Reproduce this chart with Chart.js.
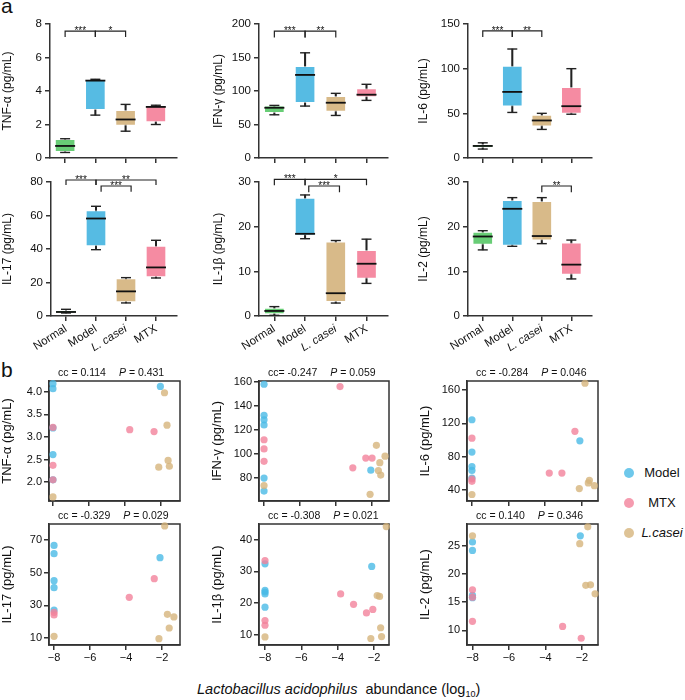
<!DOCTYPE html>
<html><head><meta charset="utf-8">
<script src="https://cdn.jsdelivr.net/npm/chart.js@4.4.0/dist/chart.umd.min.js"></script>
<style>
body{margin:0;background:#fff;}
#wrap{position:relative;width:685px;height:700px;overflow:hidden;font-family:'Liberation Sans',Arial,sans-serif;color:#111;}
canvas{position:absolute;}
.pl{position:absolute;font-size:21px;line-height:21px;}
.dot{position:absolute;width:10px;height:10px;border-radius:50%;}
.lt{position:absolute;left:640px;width:44px;text-align:center;font-size:13px;line-height:16px;}
#xt{position:absolute;left:197px;top:681px;font-size:14.5px;line-height:17px;white-space:nowrap;}
#xt sub{font-size:9px;vertical-align:-3px;line-height:0;}
</style></head><body><div id="wrap">
<div class="pl" style="left:1px;top:-5px">a</div>
<div class="pl" style="left:1px;top:359px">b</div>
<div class="dot" style="left:624px;top:468px;background:rgba(74,186,230,0.8)"></div><div class="lt" style="top:465px">Model</div>
<div class="dot" style="left:624px;top:498px;background:rgba(243,130,155,0.8)"></div><div class="lt" style="top:495px">MTX</div>
<div class="dot" style="left:624px;top:528px;background:rgba(214,180,124,0.8)"></div><div class="lt" style="top:525px;font-style:italic">L.casei</div>
<div id="xt"><i>Lactobacillus acidophilus</i>&nbsp; abundance (log<sub>10</sub>)</div>
</div>
<script>
// ---------- Panel a: box plot data [min, q1, median, q3, max] ----------
const groups = ['Normal', 'Model', 'L. casei', 'MTX'];
const tnfBox  = [[0.33,0.38,0.72,1.12,1.15],[2.56,2.88,4.62,4.66,4.7],[1.6,1.95,2.3,2.85,3.2],[2.0,2.15,3.05,3.1,3.15]];
const ifnBox  = [[64.5,67.5,75,78,78.5],[77.5,82.5,124,137,157],[63.5,69.5,82.5,92,96.5],[86,91,94.5,103.5,110]];
const il6Box  = [[10,11.6,13.5,15.4,17],[51,58,74,103,122],[32,35.6,42,48,50],[49,50,58,79,100]];
const il17Box = [[1.8,1.8,2.4,3.4,4],[39.6,41.8,58.2,62.9,65.5],[7.8,8.4,14.7,22.3,22.9],[22.7,23.3,29,41.8,45.2]];
const il1bBox = [[0.15,0.45,1.13,1.8,2.1],[17.3,18.1,18.4,26.4,27.1],[2.9,3.2,5.1,16.6,16.9],[7.3,8.4,11.7,14.7,17.2]];
const il2Box  = [[14.8,16,17.8,18.8,19.1],[15.6,15.8,24,25.9,26.5],[16.2,17,17.9,25.7,26.5],[8.3,9.3,11.5,16.4,17]];
// significance brackets: [from group, to group, bar value, leg-end value, label]
const tnfSig  = [[0,1,7.58,7.22,'***'],[1,2,7.58,7.22,'*']];
const ifnSig  = [[0,1,189.5,180,'***'],[1,2,189.5,180,'**']];
const il6Sig  = [[0,1,142.2,135.5,'***'],[1,2,142.2,135.5,'**']];
const il17Sig = [[0,1,81.2,78.2,'***'],[1,3,81.2,78.2,'**'],[1.17,2.17,77.6,74.2,'***']];
const il1bSig = [[0,1,30.6,29.3,'***'],[1,3,30.6,29.3,'*'],[1.12,2.12,29.1,27.7,'***']];
const il2Sig  = [[2,3,29.1,27.7,'**']];

// ---------- Panel b: scatter data [log10 abundance, value] ----------
const tnfModel = [[-8,4.18],[-8,4.07],[-8,3.2],[-8,2.61],[-8,2.05],[-2.04,4.12]];
const tnfMTX   = [[-8,3.21],[-8,2.37],[-8,2.05],[-3.74,3.16],[-2.39,3.12]];
const tnfLC    = [[-8,1.67],[-1.81,3.98],[-1.67,3.26],[-1.61,2.48],[-2.13,2.33],[-1.54,2.35]];
const ifnModel = [[-8,157.8],[-8,132],[-8,128.3],[-8,124],[-8,80],[-8,69.2],[-2.07,86.6]];
const ifnMTX   = [[-8,111.8],[-8,104.2],[-8,93.9],[-3.78,155.9],[-3.07,88.5],[-2.35,96.6],[-2.0,96.6]];
const ifnLC    = [[-8,73.8],[-1.76,107.2],[-1.28,98.2],[-1.57,92.8],[-1.65,86.3],[-1.52,82.5],[-2.11,66.5]];
const il6Model = [[-8,124.4],[-8,85.5],[-8,68.1],[-8,63.4],[-8,54.3],[-2.11,99]];
const il6MTX   = [[-8,102.2],[-8,53.1],[-8,50.3],[-3.78,60.2],[-3.09,60.2],[-2.38,110.5]];
const il6LC    = [[-8,34.4],[-1.83,168.3],[-2.14,41.6],[-1.65,48.3],[-1.59,51.5],[-1.32,45]];
const il17Model= [[-8,66.7],[-8,61.6],[-8,45.1],[-8,40.8],[-8,27.1],[-2.11,59.2]];
const il17MTX  = [[-8,25.7],[-8,24.1],[-3.82,34.9],[-2.43,46.3]];
const il17LC   = [[-8,11.0],[-1.85,78.6],[-1.7,24.5],[-1.34,22.9],[-1.6,16.1],[-2.17,9.6]];
const il1bModel= [[-8,32.4],[-8,24.0],[-8,23.5],[-8,22.9],[-8,18.7],[-2.13,31.6]];
const il1bMTX  = [[-8,33.4],[-8,14.5],[-8,13.0],[-3.84,22.9],[-3.13,19.6],[-2.42,16.9],[-2.07,18.0]];
const il1bLC   = [[-8,9.3],[-1.33,44.2],[-1.83,22.4],[-1.70,22.1],[-1.64,12.2],[-1.59,9.4],[-2.18,8.8]];
const il2Model = [[-8,25.7],[-8,24.2],[-8,16.2],[-8,15.8],[-2.09,26.8]];
const il2MTX   = [[-8,17.2],[-8,15.9],[-8,11.6],[-3.06,10.7],[-2.04,8.6]];
const il2LC    = [[-8,26.8],[-1.68,28.4],[-2.12,25.4],[-1.79,18.0],[-1.53,18.1],[-1.28,16.5]];
const ccLabels = ['cc = 0.114','cc= -0.247','cc = -0.284','cc = -0.329','cc = -0.308','cc = 0.140'];
const pLabels  = ['0.431','0.059','0.046','0.029','0.021','0.346'];
const xTickVals = [-8,-6,-4,-2];

// ---------- styles ----------
const FONT = "'Liberation Sans', Arial, sans-serif";
const boxColors = ['#68CD76','#56BBE3','#D8BA89','#F58BA2'];
const scColors = ['rgba(74,186,230,0.8)','rgba(243,130,155,0.8)','rgba(214,180,124,0.8)'];
Chart.defaults.font.family = FONT;
Chart.defaults.color = '#111';
Chart.defaults.animation = false;
Chart.defaults.events = [];
Chart.defaults.plugins.legend.display = false;
Chart.defaults.plugins.tooltip.enabled = false;

function mkCanvas(c) {
  const el = document.createElement('canvas');
  el.width = c[2]; el.height = c[3];
  el.style.left = c[0] + 'px'; el.style.top = c[1] + 'px';
  el.style.width = c[2] + 'px'; el.style.height = c[3] + 'px';
  document.getElementById('wrap').appendChild(el);
  return el;
}
function layoutFor(c, p) {
  return { padding: {top: p[1] - c[1], right: c[0] + c[2] - p[2], left: 0, bottom: 0},
           yw: p[0] - c[0], xh: c[1] + c[3] - p[3] };
}
const axisGrid = {display: true, drawOnChartArea: false, drawTicks: true, tickLength: 5, color: '#333', lineWidth: 1.5, offset: false};
const axisBorder = {display: true, color: '#333', width: 1.5};

const bracketPlugin = {
  id: 'brackets',
  afterDatasetsDraw(chart, args, opts) {
    const {ctx} = chart; const x = chart.scales.x, y = chart.scales.y;
    ctx.save();
    ctx.strokeStyle = '#222'; ctx.lineWidth = 1.2; ctx.fillStyle = '#111';
    ctx.font = '10px ' + FONT; ctx.textAlign = 'center'; ctx.textBaseline = 'alphabetic';
    for (const b of opts.items) {
      const x1 = x.getPixelForValue(b[0]), x2 = x.getPixelForValue(b[1]);
      const yl = y.getPixelForValue(b[2]), yg = y.getPixelForValue(b[3]);
      ctx.beginPath(); ctx.moveTo(x1, yg); ctx.lineTo(x1, yl); ctx.lineTo(x2, yl); ctx.lineTo(x2, yg); ctx.stroke();
      ctx.fillText(b[4], (x1 + x2) / 2, yl + 3);
    }
    ctx.restore();
  }
};

function boxChart(c, p, boxes, yMax, yStep, yTitle, sig, showLabels) {
  const L = layoutFor(c, p);
  new Chart(mkCanvas(c), {
    type: 'scatter',
    data: {datasets: [
      {type: 'bar', data: boxes.map((b, i) => ({x: i, y: [b[0], b[4]]})), backgroundColor: '#222', barThickness: 1.4, grouped: false, order: 3},
      {type: 'bar', data: boxes.map((b, i) => ({x: i, y: [b[1], b[3]]})), backgroundColor: boxColors, borderColor: 'rgba(255,255,255,0.55)', borderWidth: 1, borderSkipped: false, barThickness: 20, grouped: false, order: 2},
      {data: boxes.map((b, i) => ({x: i, y: b[2]})), pointStyle: 'line', pointRadius: 10, pointBorderWidth: 1.8, pointBorderColor: '#111', order: 1, clip: false},
      {data: boxes.flatMap((b, i) => [{x: i, y: b[0]}, {x: i, y: b[4]}]), pointStyle: 'line', pointRadius: 5, pointBorderWidth: 1.4, pointBorderColor: '#222', order: 1, clip: false}
    ]},
    options: {
      responsive: false, devicePixelRatio: 1, layout: {padding: L.padding},
      scales: {
        x: {type: 'linear', min: -0.5, max: 3.7, offset: false,
          afterBuildTicks: s => { s.ticks = groups.map((g, i) => ({value: i})); },
          afterFit: s => { s.height = L.xh; s.paddingLeft = 0; s.paddingRight = 0; },
          grid: axisGrid, border: axisBorder,
          ticks: {autoSkip: false, minRotation: showLabels ? 32 : 0, maxRotation: showLabels ? 32 : 0, padding: 1, color: '#111',
            font: ctx => ({size: 11.5, family: FONT, style: ctx.index === 2 ? 'italic' : 'normal'}),
            callback: (v, i) => showLabels ? groups[i] : ''}
        },
        y: {type: 'linear', min: 0, max: yMax,
          ticks: {stepSize: yStep, padding: 3, color: '#111', font: {size: 11.5}},
          afterFit: s => { s.width = L.yw; s.paddingTop = 0; s.paddingBottom = 0; },
          grid: axisGrid, border: axisBorder,
          title: {display: true, text: yTitle, color: '#111', font: {size: 12}, padding: 0}
        }
      },
      plugins: {brackets: {items: sig}}
    },
    plugins: [bracketPlugin]
  });
}

const framePlugin = {
  id: 'frame',
  beforeDatasetsDraw(chart) {
    const {ctx, chartArea: a} = chart;
    ctx.save();
    ctx.strokeStyle = '#333'; ctx.lineWidth = 1.5;
    ctx.strokeRect(a.left, a.top, a.right - a.left, a.bottom - a.top);
    ctx.restore();
  },
  afterDraw(chart, args, opts) {
    const {ctx, chartArea: a} = chart;
    ctx.save();
    ctx.fillStyle = '#111'; ctx.textBaseline = 'alphabetic'; ctx.textAlign = 'left';
    const by = a.top - 5;
    ctx.font = '10.5px ' + FONT;
    ctx.fillText(opts.cc, a.left + 9, by);
    let px = a.left + 9 + ctx.measureText(opts.cc).width + 13;
    ctx.font = 'italic 10.5px ' + FONT;
    ctx.fillText('P', px, by);
    px += ctx.measureText('P').width;
    ctx.font = '10.5px ' + FONT;
    ctx.fillText(' = ' + opts.p, px, by);
    ctx.restore();
  }
};

function scatterChart(c, p, sets, xr, yr, yTicks, yDec, yTitle, k, showX) {
  const L = layoutFor(c, p);
  new Chart(mkCanvas(c), {
    type: 'scatter',
    data: {datasets: sets.map((s, j) => ({
      data: s.map(d => ({x: d[0], y: d[1]})),
      backgroundColor: scColors[j], pointBackgroundColor: scColors[j], pointBorderWidth: 0,
      pointRadius: 3.6, order: [3, 2, 1][j], clip: false
    }))},
    options: {
      responsive: false, devicePixelRatio: 1, layout: {padding: L.padding},
      scales: {
        x: {type: 'linear', min: xr[0], max: xr[1],
          afterBuildTicks: s => { s.ticks = xTickVals.map(v => ({value: v})); },
          afterFit: s => { s.height = L.xh; s.paddingLeft = 0; s.paddingRight = 0; },
          grid: axisGrid, border: axisBorder,
          ticks: {autoSkip: false, maxRotation: 0, padding: 1, color: '#111', font: {size: 11},
            callback: v => showX ? '\u2212' + Math.abs(v) : ''}
        },
        y: {type: 'linear', min: yr[0], max: yr[1],
          afterBuildTicks: s => { s.ticks = yTicks.map(v => ({value: v})); },
          afterFit: s => { s.width = L.yw; s.paddingTop = 0; s.paddingBottom = 0; },
          grid: axisGrid, border: axisBorder,
          ticks: {padding: 2, color: '#111', font: {size: 11}, callback: v => v.toFixed(yDec)},
          title: {display: true, text: yTitle, color: '#111', font: {size: 13}, padding: 0}
        }
      },
      plugins: {frame: {cc: ccLabels[k], p: pLabels[k]}}
    },
    plugins: [framePlugin]
  });
}

// ---------- Panel a ----------
boxChart([0,0,200,170],   [50,24,177,158],  tnfBox, 8, 2, 'TNF-α (pg/mL)', tnfSig, false);
boxChart([211,0,200,170], [259,24,388,158], ifnBox, 200, 50, 'IFN-γ (pg/mL)', ifnSig, false);
boxChart([416,0,200,170], [468,24,592,158], il6Box, 150, 50, 'IL-6 (pg/mL)', il6Sig, false);
boxChart([0,170,200,190],   [51,182,177,316],  il17Box, 80, 20, 'IL-17 (pg/mL)', il17Sig, true);
boxChart([211,170,200,190], [259,182,388,316], il1bBox, 30, 10, 'IL-1β (pg/mL)', il1bSig, true);
boxChart([416,170,200,190], [468,182,592,316], il2Box, 30, 10, 'IL-2 (pg/mL)', il2Sig, true);

// ---------- Panel b ----------
scatterChart([0,352,200,160],   [49,381,180,501],  [tnfModel, tnfMTX, tnfLC], [-8.22,-0.95], [1.58,4.24], [2,2.5,3,3.5,4], 1, 'TNF-α (pg/mL)', 0, false);
scatterChart([210,352,200,160], [259,381,389,501], [ifnModel, ifnMTX, ifnLC], [-8.28,-1.06], [61,160.5], [80,100,120,140,160], 0, 'IFN-γ (pg/mL)', 1, false);
scatterChart([418,352,200,160], [467,381,598,501], [il6Model, il6MTX, il6LC], [-8.27,-1.12], [26.6,171], [40,80,120,160], 0, 'IL-6 (pg/mL)', 2, false);
scatterChart([0,505,200,180],   [49,524,180,645],  [il17Model, il17MTX, il17LC], [-8.28,-1.0], [5.7,79.8], [10,30,50,70], 0, 'IL-17 (pg/mL)', 3, true);
scatterChart([210,505,200,180], [259,524,389,645], [il1bModel, il1bMTX, il1bLC], [-8.33,-1.18], [6.75,45], [10,20,30,40], 0, 'IL-1β (pg/mL)', 4, true);
scatterChart([418,505,200,180], [467,524,598,645], [il2Model, il2MTX, il2LC], [-8.3,-1.12], [7.4,28.9], [10,15,20,25], 0, 'IL-2 (pg/mL)', 5, true);
</script>
</body></html>
